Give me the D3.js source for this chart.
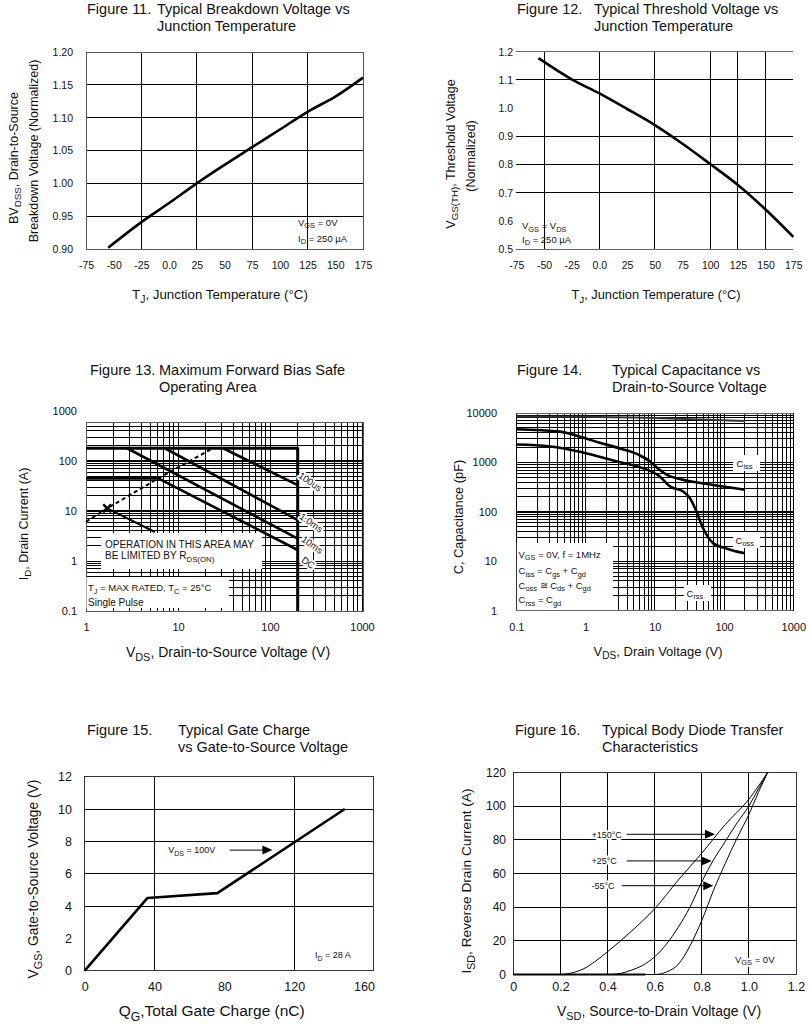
<!DOCTYPE html>
<html>
<head>
<meta charset="utf-8">
<script src="https://cdn.jsdelivr.net/npm/d3@7"></script>
<style>
  body { margin: 0; background: #fff; }
  svg text { fill: #111; }
</style>
</head>
<body>
<svg id="chart" width="809" height="1024" font-family="'Liberation Sans', Arial, Helvetica, sans-serif"></svg>
<script>
// Figure 11 - breakdown voltage vs junction temperature
var f11Temp = [-55, -25, 0, 25, 50, 75, 100, 125, 150, 175];
var f11BV = [0.902, 0.941, 0.970, 1.000, 1.028, 1.055, 1.082, 1.109, 1.132, 1.161];
var f11XTicks = [-75, -50, -25, 0, 25, 50, 75, 100, 125, 150, 175];
var f11XLabels = ['-75', '-50', '-25', '0.0', '25', '50', '75', '100', '125', '150', '175'];
var f11YTicks = [0.90, 0.95, 1.00, 1.05, 1.10, 1.15, 1.20];
var f11GridX = [-25, 25, 75, 125];

// Figure 12 - threshold voltage vs junction temperature
var f12Temp = [-55, -25, 0, 25, 50, 75, 100, 125, 150, 175];
var f12Vth = [1.177, 1.102, 1.052, 0.997, 0.940, 0.874, 0.802, 0.728, 0.641, 0.544];
var f12YTicks = [0.5, 0.6, 0.7, 0.8, 0.9, 1.0, 1.1, 1.2];
var f12GridX = [-50, 0, 50, 100, 125, 150];
var f12GridY = [1.1, 0.9, 0.8, 0.7];

// Figure 13 - safe operating area
var f13XTicks = [1, 10, 100, 1000];
var f13YTicks = [0.1, 1, 10, 100, 1000];
var f13LimitV = [1, 200, 200];
var f13LimitI = [180, 180, 0.1];
var f13Us100V = [31, 200];
var f13Us100I = [180, 33];
var f13Ms1V = [7.2, 200];
var f13Ms1I = [180, 6.6];
var f13Ms10V = [2.8, 200];
var f13Ms10I = [180, 2.8];
var f13DcV = [1, 6.1, 200];
var f13DcI = [45, 45, 1.66];
var f13TailV = [1.7, 5.6];
var f13TailI = [11.3, 3.8];
var f13RdsV = [1, 1.7, 6.1, 24];
var f13RdsI = [6.1, 11.3, 45, 180];

// Figure 14 - capacitance vs drain voltage
var f14XTicks = [0.1, 1, 10, 100, 1000];
var f14YTicks = [1, 10, 100, 1000, 10000];
var f14CissV = [0.1, 1, 10, 200];
var f14Ciss = [8500, 8400, 7900, 6900];
var f14CossV = [0.1, 0.43, 0.83, 1.6, 3.2, 6, 8.5, 11, 15, 23, 70, 200];
var f14Coss = [4700, 4200, 3300, 2500, 1900, 1400, 1050, 760, 560, 460, 350, 280];
var f14CrssV = [0.1, 0.31, 0.83, 2.5, 9, 11, 17, 26, 32, 38, 50, 70, 110, 200];
var f14Crss = [2300, 2100, 1650, 1100, 650, 560, 320, 255, 190, 120, 46, 23, 18, 14.5];

// Figure 15 - gate charge
var f15Qg = [0, 36, 76, 149];
var f15Vgs = [0, 4.5, 4.8, 10];
var f15XTicks = [0, 40, 80, 120, 160];
var f15YTicks = [0, 2, 4, 6, 8, 10, 12];
var f15GridX = [40, 120];
var f15GridY = [4, 6, 8, 10];

// Figure 16 - body diode transfer
var f16XTicks = [0, 0.2, 0.4, 0.6, 0.8, 1.0, 1.2];
var f16XLabels = ['0', '0.2', '0.4', '0.6', '0.8', '1.0', '1.2'];
var f16YTicks = [0, 20, 40, 60, 80, 100, 120];
var f16V150 = [0, 0.2, 0.25, 0.3, 0.35, 0.4, 0.5, 0.6, 0.7, 0.8, 0.9, 1.0, 1.08];
var f16I150 = [0, 0, 1, 3.5, 8, 13.5, 25.5, 39, 56, 72, 89, 104, 120];
var f16V25 = [0, 0.42, 0.46, 0.5, 0.55, 0.6, 0.65, 0.7, 0.75, 0.8, 0.85, 0.9, 0.95, 1.0, 1.04, 1.08];
var f16I25 = [0, 0, 0.8, 2.5, 5.5, 10.5, 18, 28, 40, 55, 68, 79, 90, 100, 110, 120];
var f16V55 = [0, 0.6, 0.65, 0.7, 0.75, 0.8, 0.85, 0.9, 0.95, 1.0, 1.04, 1.08];
var f16I55 = [0, 0, 1.5, 6, 17, 32, 50, 66, 81, 95, 108, 120];

var svg = d3.select('#chart');
var TITLE = 14.5;

// ---- helpers ----
function rich(sel, parts, size) {
    // parts: [text, shift] shift 1 = subscript
    var cur = 0;
    parts.forEach(function(p) {
        var s = p[1] || 0;
        var t = sel.append('tspan').text(p[0]).attr('dy', (s - cur) * size * 0.3);
        if (s !== 0) t.attr('font-size', size * 0.78);
        cur = s;
    });
    return sel;
}
function label(x, y, size, parts, anchor) {
    var t = svg.append('text').attr('x', x).attr('y', y).attr('font-size', size)
        .attr('text-anchor', anchor || 'start');
    return rich(t, parts, size);
}
function vLabel(xc, yc, size, parts) {
    var t = svg.append('text')
        .attr('transform', 'translate(' + (xc + size * 0.36) + ',' + yc + ') rotate(-90)')
        .attr('text-anchor', 'middle').attr('font-size', size);
    return rich(t, parts, size);
}
function halo(sel) {
    sel.attr('stroke', '#fff').attr('stroke-width', 4).attr('paint-order', 'stroke')
        .attr('stroke-linejoin', 'round');
    return sel;
}
function title(xFig, xText, y, fig, line1, line2) {
    svg.append('text').attr('x', xFig).attr('y', y).attr('font-size', TITLE).text(fig);
    svg.append('text').attr('x', xText).attr('y', y).attr('font-size', TITLE).text(line1);
    svg.append('text').attr('x', xText).attr('y', y + 17).attr('font-size', TITLE).text(line2);
}
function bottomLabels(scale, ticks, labels, yc, size) {
    var a = svg.append('g').attr('transform', 'translate(0,' + yc + ')')
        .call(d3.axisBottom(scale).tickValues(ticks).tickSize(0).tickPadding(0)
            .tickFormat(function(d, i) { return labels[i]; }));
    a.select('.domain').remove();
    a.attr('font-family', null).attr('font-size', null);
    a.selectAll('text').attr('font-size', size).attr('fill', '#111')
        .attr('dy', null).attr('y', size * 0.36);
}
function leftLabels(scale, ticks, labels, x, size) {
    var a = svg.append('g').attr('transform', 'translate(' + x + ',0)')
        .call(d3.axisLeft(scale).tickValues(ticks).tickSize(0).tickPadding(0)
            .tickFormat(function(d, i) { return labels[i]; }));
    a.select('.domain').remove();
    a.attr('font-family', null).attr('font-size', null);
    a.selectAll('text').attr('font-size', size).attr('fill', '#111');
}
function vGrid(vals, sx, y0, y1, w, color) {
    svg.append('g').selectAll('line').data(vals).enter().append('line')
        .attr('x1', function(d) { return sx(d); }).attr('x2', function(d) { return sx(d); })
        .attr('y1', y0).attr('y2', y1)
        .attr('stroke', color || '#000').attr('stroke-width', typeof w === 'function' ? w : (w || 1))
        .attr('shape-rendering', 'crispEdges');
}
function hGrid(vals, sy, x0, x1, w, color) {
    svg.append('g').selectAll('line').data(vals).enter().append('line')
        .attr('y1', function(d) { return sy(d); }).attr('y2', function(d) { return sy(d); })
        .attr('x1', x0).attr('x2', x1)
        .attr('stroke', color || '#000').attr('stroke-width', typeof w === 'function' ? w : (w || 1))
        .attr('shape-rendering', 'crispEdges');
}
function frame(x0, y0, x1, y1, color) {
    svg.append('rect').attr('x', x0).attr('y', y0).attr('width', x1 - x0).attr('height', y1 - y0)
        .attr('fill', 'none').attr('stroke', color || '#555').attr('stroke-width', 1)
        .attr('shape-rendering', 'crispEdges');
}
function curve(xs, ys, sx, sy, w, opts) {
    opts = opts || {};
    var line = d3.line().x(function(d) { return sx(d[0]); }).y(function(d) { return sy(d[1]); });
    if (opts.smooth) line.curve(d3.curveMonotoneX);
    svg.append('path').datum(d3.zip(xs, ys)).attr('d', line)
        .attr('fill', 'none').attr('stroke', opts.color || '#000').attr('stroke-width', w)
        .attr('stroke-dasharray', opts.dash || null).attr('stroke-linejoin', 'round');
}
function whiteBox(x0, y0, x1, y1) {
    svg.append('rect').attr('x', x0).attr('y', y0).attr('width', x1 - x0).attr('height', y1 - y0)
        .attr('fill', '#fff');
}
function arrow(x0, x1, y) {
    svg.append('line').attr('x1', x0).attr('x2', x1 - 8).attr('y1', y).attr('y2', y)
        .attr('stroke', '#000').attr('stroke-width', 1);
    svg.append('path').attr('d', 'M' + x1 + ',' + y + 'L' + (x1 - 10) + ',' + (y - 4.5) + 'L' + (x1 - 10) + ',' + (y + 4.5) + 'Z')
        .attr('fill', '#000');
}
function logVals(decades) {
    var out = [];
    decades.forEach(function(d) { for (var k = 1; k <= 9; k++) out.push(+(k * d).toPrecision(3)); });
    return out;
}

// ================= Figure 11 =================
var x11 = d3.scaleLinear().domain([-75, 175]).range([86, 363]);
var y11 = d3.scaleLinear().domain([0.9, 1.2]).range([249, 52]);
title(87, 157, 14, 'Figure 11.', 'Typical Breakdown Voltage vs', 'Junction Temperature');
hGrid(f11YTicks, y11, 86, 363, 1);
vGrid(f11GridX, x11, 52, 249, 1);
frame(86, 52, 363, 249, '#555');
curve(f11Temp, f11BV, x11, y11, 2.6, { smooth: true });
leftLabels(y11, f11YTicks, f11YTicks.map(function(d) { return d.toFixed(2); }), 73, 10.5);
bottomLabels(x11, f11XTicks, f11XLabels, 265, 10.5);
label(298, 225.5, 9.5, [['V'], ['GS', 1], [' = 0V']]);
label(298, 241.5, 9.5, [['I'], ['D', 1], [' = 250 \u00b5A']]);
vLabel(13, 158, 12.5, [['BV'], ['DSS', 1], [', Drain-to-Source']]);
vLabel(33, 151, 12.5, [['Breakdown Voltage (Normalized)']]);
label(220, 299, 13.3, [['T'], ['J', 1], [', Junction Temperature (\u00b0C)']], 'middle');

// ================= Figure 12 =================
var x12 = d3.scaleLinear().domain([-75, 175]).range([516.3, 793.3]);
var y12 = d3.scaleLinear().domain([0.5, 1.2]).range([249.3, 51.7]);
title(517, 594, 14, 'Figure 12.', 'Typical Threshold Voltage vs', 'Junction Temperature');
hGrid([1.2, 0.5], y12, 516.3, 793.3, 1, '#666');
hGrid(f12GridY, y12, 516.3, 793.3, 1);
vGrid(f12GridX, x12, 51.7, 249.3, 1);
curve(f12Temp, f12Vth, x12, y12, 2.6, { smooth: true });
leftLabels(y12, f12YTicks, f12YTicks.map(function(d) { return d.toFixed(1); }), 513, 10.5);
bottomLabels(x12, f11XTicks, f11XLabels, 265, 10.5);
label(522, 229, 9.5, [['V'], ['GS', 1], [' = V'], ['DS', 1]]);
label(522, 242.5, 9.5, [['I'], ['D', 1], [' = 250 \u00b5A']]);
vLabel(450, 154, 12.5, [['V'], ['GS(TH)', 1], [', Threshold Voltage']]);
vLabel(470, 156, 12.5, [['(Normalized)']]);
label(656, 299, 12.8, [['T'], ['J', 1], [', Junction Temperature (\u00b0C)']], 'middle');

// ================= Figure 13 =================
var x13 = d3.scaleLog().domain([1, 1000]).range([86, 362]);
var y13 = d3.scaleLog().domain([0.1, 1000]).range([611, 411]);
title(90, 159, 375, 'Figure 13.', 'Maximum Forward Bias Safe', 'Operating Area');
var g13x = logVals([1, 10, 100]).concat([1000]);
var g13y = logVals([0.1, 1, 10, 100]).filter(function(d) { return y13(d) >= 422; });
vGrid(g13x, x13, 422, 611, 1);
hGrid(g13y, y13, 86, 363, function(d) { return (d === 10 || d === 100) ? 2.2 : 1; });
frame(86, 422, 363, 611, '#555');
whiteBox(101, 533, 262, 569);
whiteBox(86.5, 577, 229, 608);
curve(f13TailV, f13TailI, x13, y13, 2);
curve(f13DcV, f13DcI, x13, y13, 2.6);
curve(f13Ms10V, f13Ms10I, x13, y13, 2.6);
curve(f13Ms1V, f13Ms1I, x13, y13, 2.6);
curve(f13Us100V, f13Us100I, x13, y13, 2.6);
curve(f13RdsV, f13RdsI, x13, y13, 2, { dash: '4,3' });
curve(f13LimitV, f13LimitI, x13, y13, 3);
// marker on the Rds(on) line
(function() {
    var cx = x13(f13RdsV[1]), cy = y13(f13RdsI[1]);
    svg.append('path').attr('d', 'M' + (cx - 4) + ',' + (cy - 4) + 'L' + (cx + 4) + ',' + (cy + 4) +
        'M' + (cx - 4) + ',' + (cy + 4) + 'L' + (cx + 4) + ',' + (cy - 4))
        .attr('stroke', '#000').attr('stroke-width', 2.4);
})();
[['100us', 310, 482], ['1.0ms', 311, 523], ['10ms', 312, 545], ['DC', 308, 563]].forEach(function(l) {
    halo(svg.append('text').attr('transform', 'translate(' + l[1] + ',' + l[2] + ') rotate(35)')
        .attr('text-anchor', 'middle').attr('dy', 3).attr('font-size', 9.5).text(l[0]));
});
label(105, 548, 10, [['OPERATION IN THIS AREA MAY']]);
label(105, 559, 10, [['BE LIMITED BY R'], ['DS(ON)', 1]]);
label(88, 591, 9.5, [['T'], ['J', 1], [' = MAX RATED,  T'], ['C', 1], [' = 25\u00b0C']]);
label(88, 605.5, 10, [['Single Pulse']]);
leftLabels(y13, f13YTicks, ['0.1', '1', '10', '100', '1000'], 77, 11);
bottomLabels(x13, f13XTicks, ['1', '10', '100', '1000'], 627, 11);
vLabel(23, 524, 12.5, [['I'], ['D', 1], [', Drain Current (A)']]);
label(228, 657, 14, [['V'], ['DS', 1], [', Drain-to-Source Voltage (V)']], 'middle');

// ================= Figure 14 =================
var x14 = d3.scaleLog().domain([0.1, 1000]).range([516.3, 793.3]);
var y14 = d3.scaleLog().domain([1, 10000]).range([610.7, 413]);
title(517, 612, 375, 'Figure 14.', 'Typical Capacitance vs', 'Drain-to-Source Voltage');
vGrid(logVals([0.1, 1, 10, 100]).concat([1000]), x14, 413, 610.7, 1);
hGrid(logVals([1, 10, 100, 1000]).concat([10000]), y14, 516.3, 793.3,
    function(d) { return d === 100 ? 2.4 : 1; });
hGrid([10000, 1], y14, 516.3, 793.3, 1, '#666');
whiteBox(516.8, 543, 613, 610);
curve(f14CissV, f14Ciss, x14, y14, 2, { smooth: true, color: '#333' });
curve(f14CossV, f14Coss, x14, y14, 2.6, { smooth: true });
curve(f14CrssV, f14Crss, x14, y14, 2.6, { smooth: true });
whiteBox(733, 455, 760, 471);
whiteBox(733, 532, 760, 548);
whiteBox(684, 585, 711, 601);
label(736.5, 466.5, 9.5, [['C'], ['iss', 1]]);
label(735.5, 543.5, 9.5, [['C'], ['oss', 1]]);
label(686.5, 596.5, 9.5, [['C'], ['rss', 1]]);
label(518.5, 557.5, 9.5, [['V'], ['GS', 1], [' = 0V, f = 1MHz']]);
label(518.5, 574, 9.5, [['C'], ['iss', 1], [' = C'], ['gs', 1], [' + C'], ['gd', 1]]);
label(518.5, 588.5, 9.5, [['C'], ['oss', 1], [' \u2245 C'], ['ds', 1], [' + C'], ['gd', 1]]);
label(518.5, 603, 9.5, [['C'], ['rss', 1], [' = C'], ['gd', 1]]);
leftLabels(y14, f14YTicks, ['1', '10', '100', '1000', '10000'], 497, 11);
bottomLabels(x14, f14XTicks, ['0.1', '1', '10', '100', '1000'], 627, 11);
vLabel(458, 517, 12.8, [['C, Capacitance (pF)']]);
label(658, 655.5, 13, [['V'], ['DS', 1], [', Drain Voltage (V)']], 'middle');

// ================= Figure 15 =================
var x15 = d3.scaleLinear().domain([0, 160]).range([84.7, 364]);
var y15 = d3.scaleLinear().domain([0, 12]).range([970.7, 776.7]);
title(87, 178, 734.7, 'Figure 15.', 'Typical Gate Charge', 'vs Gate-to-Source Voltage');
hGrid(f15GridY, y15, 84.7, 373, 1);
vGrid(f15GridX, x15, 776.7, 970.7, 1);
frame(84.7, 776.7, 373, 970.7, '#333');
curve(f15Qg, f15Vgs, x15, y15, 2.6);
label(x15(47.8), y15(7.46) + 3, 9, [['V'], ['DS', 1], [' = 100V']]);
arrow(x15(83), x15(107.5), y15(7.46));
label(315, 958, 9, [['I'], ['D', 1], [' = 28 A']]);
leftLabels(y15, f15YTicks, f15YTicks.map(String), 72, 12.5);
bottomLabels(x15, f15XTicks, f15XTicks.map(String), 986.7, 12.5);
vLabel(33, 879, 13.8, [['V'], ['GS', 1], [', Gate-to-Source Voltage (V)']]);
label(211.7, 1016, 15.5, [['Q'], ['G', 1], [',Total Gate Charge (nC)']], 'middle');

// ================= Figure 16 =================
var x16 = d3.scaleLinear().domain([0, 1.2]).range([513.3, 796]);
var y16 = d3.scaleLinear().domain([0, 120]).range([974.5, 772.3]);
title(515, 602, 734.7, 'Figure 16.', 'Typical Body Diode Transfer', 'Characteristics');
hGrid(f16YTicks, y16, 513.3, 796, 1);
vGrid(f16XTicks, x16, 772.3, 974.5, 1);
frame(513.3, 772.3, 796, 974.5, '#333');
curve(f16V150, f16I150, x16, y16, 1, { smooth: true });
curve(f16V25, f16I25, x16, y16, 1, { smooth: true });
curve(f16V55, f16I55, x16, y16, 1, { smooth: true });
svg.append('line').attr('x1', x16(0)).attr('x2', x16(0.56)).attr('y1', y16(0)).attr('y2', y16(0))
    .attr('stroke', '#000').attr('stroke-width', 2.2);
halo(label(591.5, 837.5, 9, [['+150\u00b0C']]));
arrow(x16(0.481), x16(0.856), y16(83.2));
halo(label(591.5, 864, 9, [['+25\u00b0C']]));
arrow(x16(0.481), x16(0.842), y16(67.4));
halo(label(591.5, 889, 9, [['-55\u00b0C']]));
arrow(x16(0.46), x16(0.849), y16(52.7));
halo(label(735, 962.5, 9.5, [['V'], ['GS', 1], [' = 0V']]));
leftLabels(y16, f16YTicks, f16YTicks.map(String), 506, 12);
bottomLabels(x16, f16XTicks, f16XLabels, 986.7, 12.5);
vLabel(466, 881, 13.7, [['I'], ['SD', 1], [', Reverse Drain Current (A)']]);
label(659, 1016, 14, [['V'], ['SD', 1], [', Source-to-Drain Voltage (V)']], 'middle');
</script>
</body>
</html>
